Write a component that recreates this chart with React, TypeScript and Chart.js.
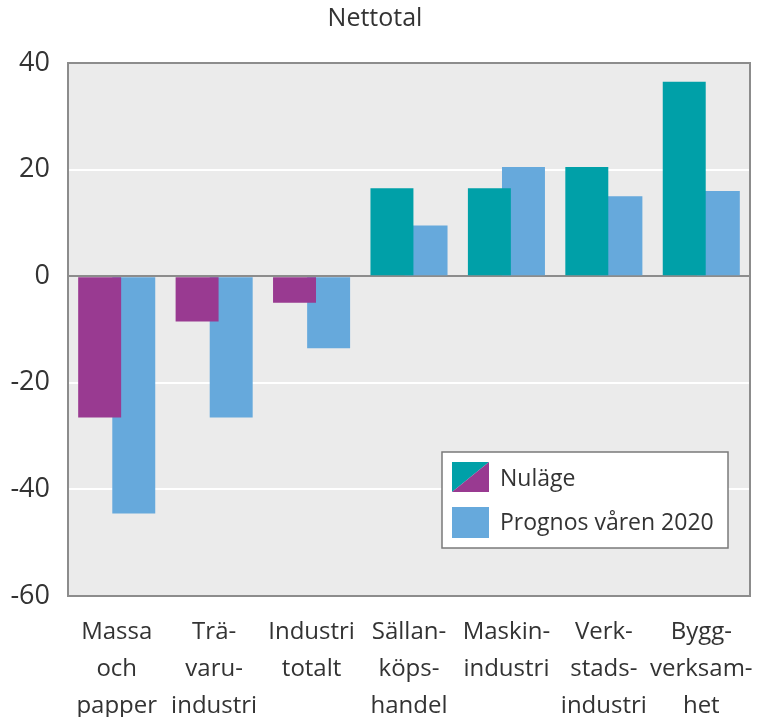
import React, { useEffect, useRef } from "react";
import { Chart, registerables } from "chart.js";

Chart.register(...registerables);

const categories: string[][] = [
  ["Massa", "och", "papper"],
  ["Trä-", "varu-", "industri"],
  ["Industri", "totalt"],
  ["Sällan-", "köps-", "handel"],
  ["Maskin-", "industri"],
  ["Verk-", "stads-", "industri"],
  ["Bygg-", "verksam-", "het"],
];
const nulage: number[] = [-26.5, -8.5, -5, 16.5, 16.5, 20.5, 36.5];
const prognos: number[] = [-44.5, -26.5, -13.5, 9.5, 20.5, 15, 16];
const seriesNames = ["Nuläge", "Prognos våren 2020"];
const yTicks: number[] = [-60, -40, -20, 0, 20, 40];

const PURPLE = "#993a91";
const TEAL = "#00a0a8";
const BLUE = "#66a9dc";
const FONT = "'Open Sans', 'Noto Sans', sans-serif";

const nulageColors = nulage.map((_, i) => (i < 3 ? PURPLE : TEAL));

const framePlugin = {
  id: "frame",
  beforeDraw(chart: any) {
    const { ctx, chartArea: a } = chart;
    ctx.save();
    ctx.fillStyle = "#ebebeb";
    ctx.fillRect(a.left, a.top, a.right - a.left, a.bottom - a.top);
    ctx.restore();
  },
  afterDatasetsDraw(chart: any) {
    const { ctx, chartArea: a } = chart;
    ctx.save();
    ctx.strokeStyle = "#8c8c8c";
    ctx.lineWidth = 2;
    ctx.strokeRect(a.left, a.top, a.right - a.left, a.bottom - a.top);
    ctx.restore();
  },
  afterDraw(chart: any) {
    const { ctx, chartArea: a } = chart;
    const x = a.right - 308;
    const y = a.bottom - 144;
    const w = 286;
    const h = 96;
    ctx.save();
    ctx.fillStyle = "#ffffff";
    ctx.fillRect(x, y, w, h);
    ctx.strokeStyle = "#7a7a7a";
    ctx.lineWidth = 1.5;
    ctx.strokeRect(x, y, w, h);
    const sx = x + 10;
    const s1y = y + 10;
    const sw = 37;
    const sh = 30;
    ctx.fillStyle = TEAL;
    ctx.beginPath();
    ctx.moveTo(sx, s1y);
    ctx.lineTo(sx + sw, s1y);
    ctx.lineTo(sx, s1y + sh);
    ctx.closePath();
    ctx.fill();
    ctx.fillStyle = PURPLE;
    ctx.beginPath();
    ctx.moveTo(sx + sw, s1y);
    ctx.lineTo(sx + sw, s1y + sh);
    ctx.lineTo(sx, s1y + sh);
    ctx.closePath();
    ctx.fill();
    const s2y = y + 55;
    ctx.fillStyle = BLUE;
    ctx.fillRect(sx, s2y, sw, 31);
    ctx.fillStyle = "#333333";
    ctx.font = `23px ${FONT}`;
    ctx.textBaseline = "middle";
    ctx.textAlign = "left";
    ctx.fillText(seriesNames[0], x + 58, s1y + sh / 2 + 2);
    ctx.fillText(seriesNames[1], x + 58, s2y + 16);
    ctx.restore();
  },
};

export default function App() {
  const ref = useRef<HTMLCanvasElement | null>(null);
  useEffect(() => {
    document.body.style.margin = "0";
    const canvas = ref.current;
    if (!canvas) return;
    const chart = new Chart(canvas, {
      type: "bar",
      data: {
        labels: categories,
        datasets: [
          {
            label: seriesNames[0],
            data: nulage,
            backgroundColor: nulageColors,
            borderWidth: 0,
            categoryPercentage: 0.7,
            barPercentage: 1.26,
          },
          {
            label: seriesNames[1],
            data: prognos,
            backgroundColor: BLUE,
            borderWidth: 0,
            categoryPercentage: 0.7,
            barPercentage: 1.26,
          },
        ],
      },
      options: {
        responsive: false,
        animation: false,
        devicePixelRatio: 1,
        layout: { padding: { left: 0, right: 7, top: 0, bottom: 0 } },
        plugins: {
          legend: { display: false },
          tooltip: { enabled: false },
          title: {
            display: true,
            text: "Nettotal",
            color: "#333333",
            font: { family: FONT, size: 25, weight: "normal", lineHeight: 1.2 },
            padding: { top: 4, bottom: 29 },
          },
        },
        scales: {
          x: {
            offset: true,
            grid: { display: false, drawTicks: false },
            border: { display: false },
            ticks: {
              color: "#333333",
              font: { family: FONT, size: 24, lineHeight: 1.54 },
              padding: 18,
              maxRotation: 0,
              minRotation: 0,
              autoSkip: false,
            },
            afterFit: (s: any) => {
              s.height = 121;
              s.paddingLeft = 0;
              s.paddingRight = 0;
            },
          },
          y: {
            min: -60,
            max: 40,
            afterBuildTicks: (s: any) => {
              s.ticks = yTicks.map((v) => ({ value: v }));
            },
            grid: {
              drawTicks: false,
              lineWidth: 2,
              color: (c: any) =>
                c.tick && c.tick.value === 0 ? "#8c8c8c" : "#ffffff",
            },
            border: { display: false },
            ticks: {
              color: "#333333",
              font: { family: FONT, size: 27 },
              padding: 18,
            },
            afterFit: (s: any) => {
              s.width = 68;
            },
          },
        },
      },
      plugins: [framePlugin],
    });
    return () => chart.destroy();
  }, []);
  return (
    <div style={{ position: "absolute", left: 0, top: 0, width: 757, height: 717 }}>
      <canvas ref={ref} width={757} height={717} style={{ display: "block" }} />
    </div>
  );
}
